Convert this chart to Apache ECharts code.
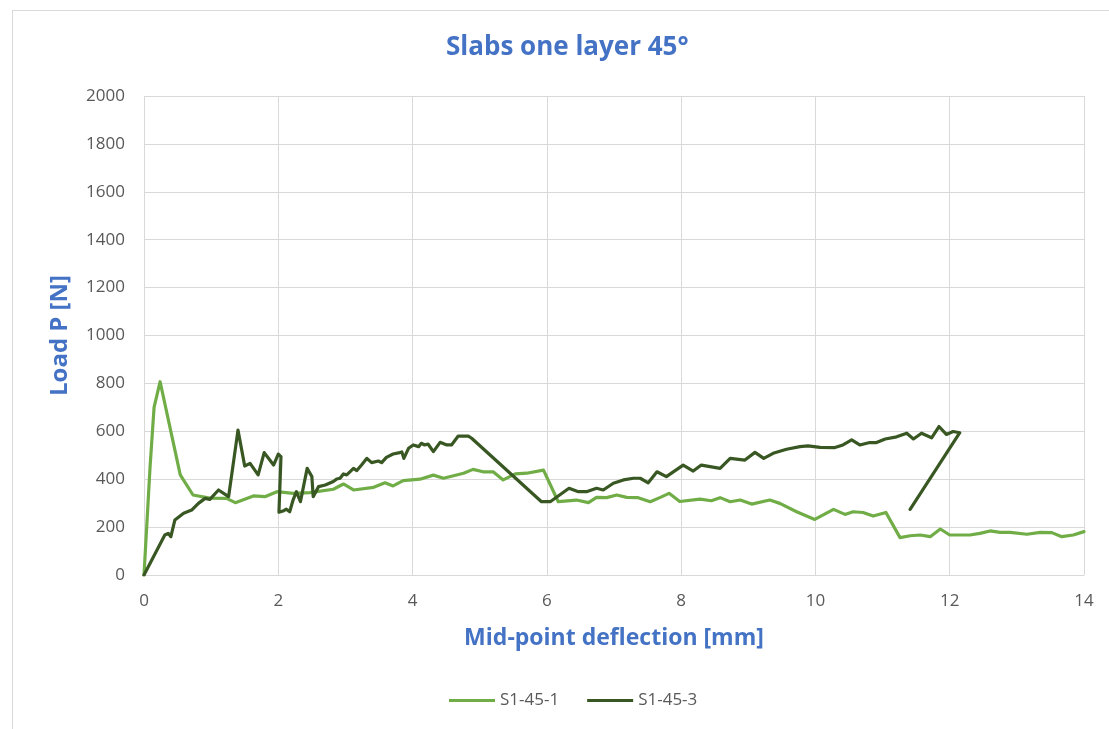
<!DOCTYPE html>
<html>
<head>
<meta charset="utf-8">
<title>Slabs one layer 45°</title>
<script src="https://cdn.jsdelivr.net/npm/echarts@6/dist/echarts.min.js"></script>
<style>
  html, body { margin: 0; padding: 0; background: #ffffff; }
  #frame { position: absolute; left: 12px; top: 10px; width: 1120px; height: 740px;
           border: 1px solid #d9d9d9; box-sizing: border-box; }
  #chart { position: absolute; left: 0; top: 0; width: 1109px; height: 729px; }
</style>
</head>
<body>
<div id="frame"></div>
<div id="chart"></div>
<script>
// Load–deflection curves, [deflection mm, load N]
const seriesNames = ['S1-45-1', 'S1-45-3'];

const s1_45_1 = [
  [0, 0], [0.09, 450], [0.15, 700], [0.24, 807], [0.54, 418], [0.73, 334], [0.98, 321],
  [1.23, 320], [1.36, 302], [1.63, 330], [1.80, 327], [1.98, 348], [2.22, 341], [2.47, 344],
  [2.82, 358], [2.97, 380], [3.12, 355], [3.42, 366], [3.59, 385], [3.71, 372], [3.86, 394],
  [4.11, 400], [4.31, 417], [4.46, 404], [4.76, 425], [4.90, 441], [5.05, 431], [5.20, 431],
  [5.35, 397], [5.53, 422], [5.70, 425], [5.95, 438], [6.17, 306], [6.44, 313], [6.62, 302],
  [6.74, 324], [6.89, 323], [7.04, 334], [7.19, 324], [7.36, 323], [7.54, 306], [7.69, 324],
  [7.82, 341], [7.98, 307], [8.28, 317], [8.45, 310], [8.58, 323], [8.73, 306], [8.88, 313],
  [9.05, 296], [9.32, 313], [9.47, 299], [9.72, 264], [9.99, 232], [10.27, 274], [10.44, 253],
  [10.56, 264], [10.71, 261], [10.86, 246], [11.05, 261], [11.26, 156], [11.41, 164],
  [11.56, 167], [11.71, 160], [11.86, 192], [12.0, 167], [12.30, 167], [12.45, 174],
  [12.60, 184], [12.75, 178], [12.90, 178], [13.15, 170], [13.35, 178], [13.52, 177],
  [13.67, 160], [13.84, 167], [14.0, 181]
];

const s1_45_3 = [
  [0, 0], [0.31, 167], [0.36, 174], [0.40, 160], [0.46, 230], [0.59, 258], [0.71, 271],
  [0.81, 299], [0.91, 320], [0.98, 316], [1.11, 355], [1.26, 327], [1.40, 605], [1.50, 455],
  [1.58, 466], [1.70, 418], [1.79, 511], [1.93, 459], [2.00, 505], [2.04, 494], [2.01, 262],
  [2.07, 267], [2.12, 275], [2.17, 264], [2.22, 313], [2.27, 348], [2.33, 306], [2.43, 445],
  [2.50, 411], [2.52, 327], [2.60, 369], [2.70, 376], [2.82, 390], [2.87, 401], [2.92, 404],
  [2.97, 422], [3.02, 418], [3.12, 445], [3.17, 436], [3.24, 459], [3.32, 487], [3.39, 469],
  [3.49, 476], [3.54, 469], [3.61, 491], [3.71, 505], [3.81, 511], [3.84, 514], [3.87, 487],
  [3.94, 529], [4.01, 543], [4.09, 536], [4.13, 550], [4.18, 543], [4.23, 547], [4.31, 515],
  [4.41, 554], [4.51, 543], [4.58, 543], [4.68, 580], [4.83, 580], [4.88, 571], [5.92, 306],
  [6.05, 306], [6.33, 362], [6.47, 348], [6.59, 348], [6.74, 362], [6.84, 355], [6.99, 383],
  [7.14, 397], [7.29, 404], [7.39, 404], [7.51, 385], [7.64, 431], [7.78, 411], [8.03, 459],
  [8.18, 434], [8.30, 459], [8.58, 445], [8.73, 487], [8.95, 480], [9.10, 512], [9.23, 487],
  [9.37, 508], [9.57, 525], [9.77, 536], [9.89, 539], [10.07, 533], [10.29, 532], [10.41, 543],
  [10.54, 564], [10.66, 543], [10.81, 553], [10.91, 553], [11.04, 568], [11.21, 577],
  [11.36, 592], [11.46, 568], [11.58, 592], [11.73, 573], [11.84, 620], [11.95, 587],
  [12.05, 599], [12.15, 594], [11.41, 274]
];

const xTicks = { min: 0, max: 14, interval: 2 };
const yTicks = { min: 0, max: 2000, interval: 200 };

const FONT = '"Open Sans", "Noto Sans", sans-serif';
const BLUE = '#4472C4';
const GREY_TEXT = '#595959';
const GRID = '#d9d9d9';

const chart = echarts.init(document.getElementById('chart'), null, { renderer: 'canvas' });

chart.setOption({
  animation: false,
  backgroundColor: 'transparent',
  title: {
    text: 'Slabs one layer 45°',
    left: 441, top: 30,
    textStyle: { color: BLUE, fontFamily: FONT, fontSize: 26, fontWeight: 'bold' }
  },
  legend: {
    bottom: 15, left: 444,
    itemWidth: 46, itemHeight: 3, itemGap: 28,
    icon: 'rect',
    textStyle: { color: GREY_TEXT, fontFamily: FONT, fontSize: 17 },
    data: seriesNames
  },
  grid: { left: 144, right: 25, top: 96, bottom: 154, containLabel: false },
  xAxis: {
    type: 'value',
    min: xTicks.min, max: xTicks.max, interval: xTicks.interval,
    name: 'Mid-point deflection [mm]',
    nameLocation: 'middle', nameGap: 52,
    nameTextStyle: { color: BLUE, fontFamily: FONT, fontSize: 23, fontWeight: 'bold' },
    axisLine: { show: true, lineStyle: { color: GRID, width: 1 } },
    axisTick: { show: false },
    axisLabel: { color: GREY_TEXT, fontFamily: FONT, fontSize: 17, margin: 18,
                 formatter: v => String(v) },
    splitLine: { show: true, lineStyle: { color: GRID, width: 1 } }
  },
  yAxis: {
    type: 'value',
    min: yTicks.min, max: yTicks.max, interval: yTicks.interval,
    name: 'Load P [N]',
    nameLocation: 'middle', nameGap: 72, nameRotate: 90,
    nameTextStyle: { color: BLUE, fontFamily: FONT, fontSize: 24, fontWeight: 'bold' },
    axisLine: { show: false },
    axisTick: { show: false },
    axisLabel: { color: GREY_TEXT, fontFamily: FONT, fontSize: 17, margin: 19,
                 formatter: v => String(v) },
    splitLine: { show: true, lineStyle: { color: GRID, width: 1 } }
  },
  series: [
    {
      name: seriesNames[0], type: 'line', data: s1_45_1,
      showSymbol: false, symbol: 'none', smooth: false,
      lineStyle: { color: '#70AD47', width: 3.2, join: 'round', cap: 'round' },
      itemStyle: { color: '#70AD47' }
    },
    {
      name: seriesNames[1], type: 'line', data: s1_45_3,
      showSymbol: false, symbol: 'none', smooth: false,
      lineStyle: { color: '#385723', width: 3.2, join: 'round', cap: 'round' },
      itemStyle: { color: '#385723' }
    }
  ]
});
</script>
</body>
</html>
